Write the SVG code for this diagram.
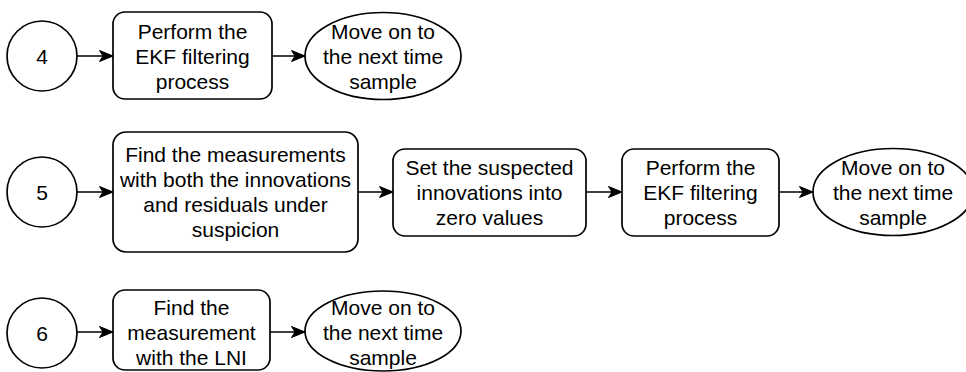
<svg xmlns="http://www.w3.org/2000/svg" width="966" height="372" viewBox="0 0 966 372">
  <defs>
    <marker id="arrow" markerWidth="16" markerHeight="14" refX="14.5" refY="7" orient="auto" markerUnits="userSpaceOnUse">
      <path d="M1,1.5 L14.5,7 L1,12.5 L4.5,7 Z" fill="#000" stroke="#000" stroke-width="1" stroke-linejoin="miter"/>
    </marker>
  </defs>
  <style>
    .shape { fill: #fff; stroke: #000; stroke-width: 1.7; }
    .label { font-family: "Liberation Sans", Arial, sans-serif; font-size: 21px; fill: #000; text-anchor: middle; }
    .edge { stroke: #000; stroke-width: 1.7; fill: none; marker-end: url(#arrow); }
  </style>
  <rect width="966" height="372" fill="#fff"/>

  <!-- connectors -->
  <g id="connectors">
    <line class="edge" x1="77" y1="56" x2="113" y2="56"/>
    <line class="edge" x1="272" y1="56" x2="305" y2="56"/>
    <line class="edge" x1="77" y1="192" x2="113" y2="192"/>
    <line class="edge" x1="358" y1="192" x2="393" y2="192"/>
    <line class="edge" x1="586" y1="192" x2="622" y2="192"/>
    <line class="edge" x1="779" y1="192" x2="813" y2="192"/>
    <line class="edge" x1="77" y1="332" x2="113" y2="332"/>
    <line class="edge" x1="270" y1="332" x2="305" y2="332"/>
  </g>

  <!-- row 4 -->
  <g id="case4">
    <circle class="shape" cx="42" cy="56" r="35"/>
    <text class="label" x="42" y="63.5">4</text>
  </g>
  <g id="ekf4">
    <rect class="shape" x="113" y="12" width="159" height="87" rx="12"/>
    <text class="label" x="192.5" y="38.5">Perform the</text>
    <text class="label" x="192.5" y="63.5">EKF filtering</text>
    <text class="label" x="192.5" y="88.5">process</text>
  </g>
  <g id="next4">
    <ellipse class="shape" cx="383" cy="56" rx="78" ry="43.5"/>
    <text class="label" x="383" y="38.5">Move on to</text>
    <text class="label" x="383" y="63.5">the next time</text>
    <text class="label" x="383" y="88.5">sample</text>
  </g>

  <!-- row 5 -->
  <g id="case5">
    <circle class="shape" cx="42" cy="192" r="35"/>
    <text class="label" x="42" y="199.5">5</text>
  </g>
  <g id="find5">
    <rect class="shape" x="113" y="132" width="245" height="120" rx="13"/>
    <text class="label" x="235.5" y="162">Find the measurements</text>
    <text class="label" x="235.5" y="187">with both the innovations</text>
    <text class="label" x="235.5" y="212">and residuals under</text>
    <text class="label" x="235.5" y="237">suspicion</text>
  </g>
  <g id="zero5">
    <rect class="shape" x="393" y="149" width="193" height="87" rx="12"/>
    <text class="label" x="489.5" y="174.5">Set the suspected</text>
    <text class="label" x="489.5" y="199.5">innovations into</text>
    <text class="label" x="489.5" y="224.5">zero values</text>
  </g>
  <g id="ekf5">
    <rect class="shape" x="622" y="149" width="157" height="87" rx="12"/>
    <text class="label" x="700.5" y="174.5">Perform the</text>
    <text class="label" x="700.5" y="199.5">EKF filtering</text>
    <text class="label" x="700.5" y="224.5">process</text>
  </g>
  <g id="next5">
    <ellipse class="shape" cx="893" cy="192" rx="80" ry="43.5"/>
    <text class="label" x="893" y="174.5">Move on to</text>
    <text class="label" x="893" y="199.5">the next time</text>
    <text class="label" x="893" y="224.5">sample</text>
  </g>

  <!-- row 6 -->
  <g id="case6">
    <circle class="shape" cx="42" cy="333" r="35"/>
    <text class="label" x="42" y="340.5">6</text>
  </g>
  <g id="lni6">
    <rect class="shape" x="113" y="290" width="157" height="80" rx="12"/>
    <text class="label" x="191.5" y="315">Find the</text>
    <text class="label" x="191.5" y="340">measurement</text>
    <text class="label" x="191.5" y="365">with the LNI</text>
  </g>
  <g id="next6">
    <ellipse class="shape" cx="383" cy="331" rx="78" ry="40"/>
    <text class="label" x="383" y="315">Move on to</text>
    <text class="label" x="383" y="340">the next time</text>
    <text class="label" x="383" y="365">sample</text>
  </g>
</svg>
